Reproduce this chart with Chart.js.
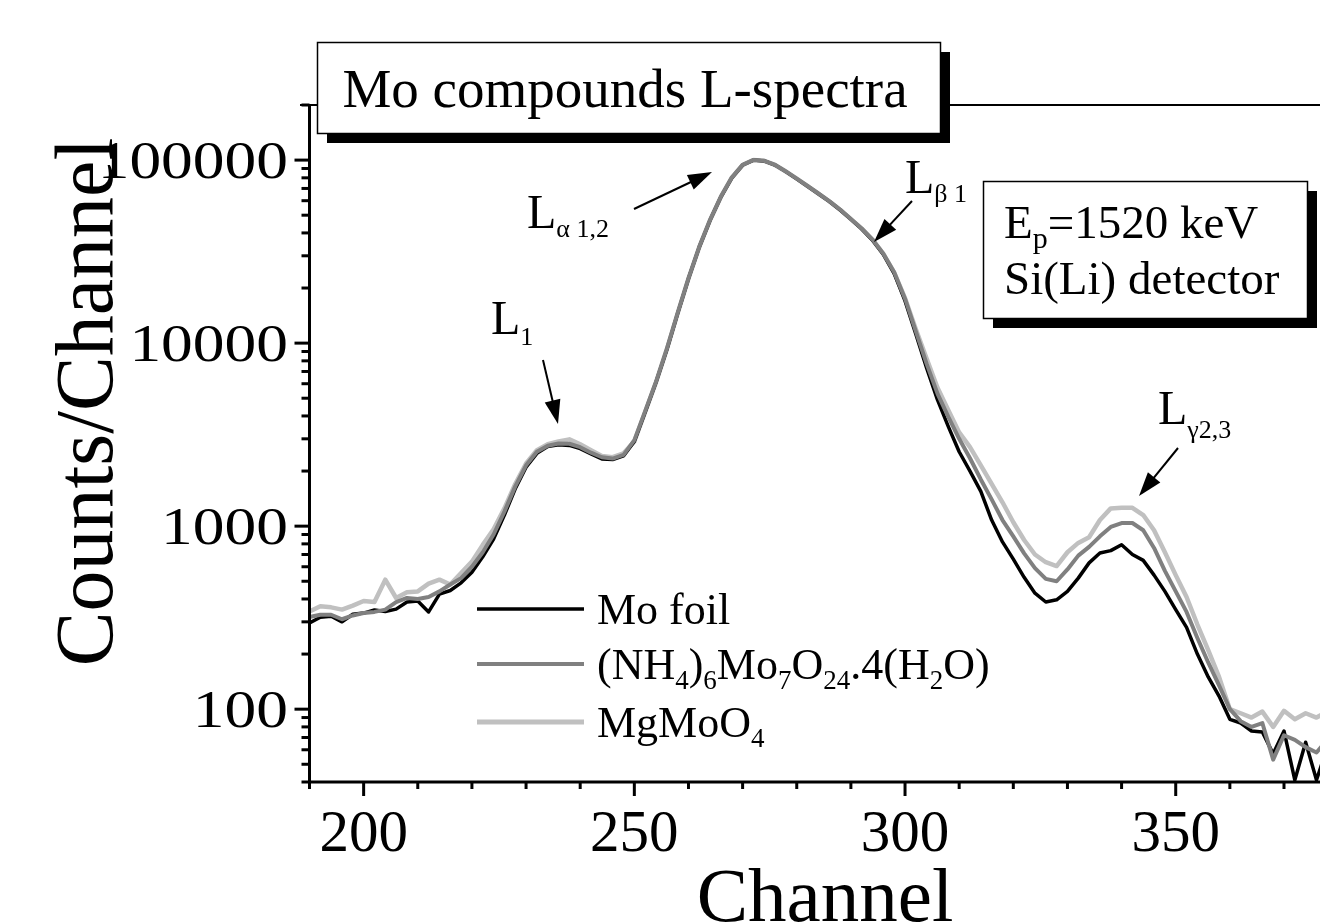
<!DOCTYPE html>
<html>
<head>
<meta charset="utf-8">
<script src="https://cdn.jsdelivr.net/npm/chart.js@4.4.1/dist/chart.umd.min.js"></script>
<style>
  html, body { margin: 0; padding: 0; background: #fff; }
  #wrap { width: 1320px; height: 923px; }
</style>
</head>
<body>
<div id="wrap"><canvas id="spectra" width="1320" height="923"></canvas></div>
<script>
// channel numbers (every 2nd channel)
const channels = [190,192,194,196,198,200,202,204,206,208,210,212,214,216,218,220,222,224,226,228,
  230,232,234,236,238,240,242,244,246,248,250,252,254,256,258,260,262,264,266,268,
  270,272,274,276,278,280,282,284,286,288,290,292,294,296,298,300,302,304,306,308,
  310,312,314,316,318,320,322,324,326,328,330,332,334,336,338,340,342,344,346,348,
  350,352,354,356,358,360,362,364,366,368,370,372,374,376,378];

// counts per channel
const moFoil = [296,318,322,300,330,335,348,342,352,385,390,340,425,445,490,560,680,850,1150,1600,
  2100,2500,2720,2780,2760,2650,2480,2330,2310,2420,2900,4200,6100,9200,14500,22500,33500,47000,63000,80000,
  94000,100000,99000,94000,86500,79000,72000,65500,59500,53500,47500,42000,36500,30500,24000,17000,11200,7300,4900,3500,
  2550,2000,1550,1080,820,660,525,430,385,396,440,520,630,713,735,792,700,650,540,440,
  350,280,200,150,118,88,84,76,75,57,76,41,66,41,62];

const nh4Mo = [319,328,328,310,325,335,340,350,385,405,400,410,440,480,520,600,720,900,1200,1650,
  2150,2550,2750,2830,2820,2700,2520,2380,2340,2450,2950,4250,6150,9300,14600,22600,33600,47200,63200,80300,
  94200,100200,99100,94100,86700,79200,72200,65700,59700,53700,47700,42300,36800,30800,24400,17500,11600,7700,5300,3950,
  3000,2350,1800,1400,1080,880,710,590,515,500,580,690,770,880,990,1040,1040,950,760,570,
  440,340,245,180,135,100,86,80,84,53,72,68,62,58,68];

const mgMoO4 = [342,365,360,350,368,390,385,510,405,435,440,485,510,480,555,640,790,960,1250,1700,
  2200,2600,2800,2900,2980,2800,2600,2420,2380,2500,2900,4200,6100,9250,14550,22550,33550,47100,63100,80100,
  94100,100100,99050,94050,86600,79100,72100,65600,59600,53600,47600,42200,36700,30700,24300,17600,11900,8200,5700,4300,
  3250,2700,2150,1700,1350,1050,840,700,635,605,720,810,870,1080,1250,1260,1260,1150,950,720,
  540,410,290,210,150,100,95,90,97,80,98,88,95,90,97];

const xTickLabels = [200, 250, 300, 350];
const yTickLabels = [100, 1000, 10000, 100000];

const serif = '"Liberation Serif", "Times New Roman", serif';

function pts(vals) {
  return channels.map((c, i) => ({ x: c, y: vals[i] }));
}

// text with subscripts: parts = [[text, isSub], ...]
function rich(ctx, parts, x, y, size, subSize, drop) {
  let cx = x;
  parts.forEach(([t, sub]) => {
    ctx.font = (sub ? subSize : size) + 'px ' + serif;
    ctx.fillText(t, cx, sub ? y + drop : y);
    cx += ctx.measureText(t).width;
  });
  return cx - x;
}

function arrow(ctx, x1, y1, x2, y2) {
  const a = Math.atan2(y2 - y1, x2 - x1), L = 24, W = 8;
  const c = Math.cos(a), s = Math.sin(a);
  ctx.lineWidth = 2;
  ctx.beginPath();
  ctx.moveTo(x1, y1);
  ctx.lineTo(x2 - c * L * 0.8, y2 - s * L * 0.8);
  ctx.stroke();
  ctx.beginPath();
  ctx.moveTo(x2, y2);
  ctx.lineTo(x2 - L * c + W * s, y2 - L * s - W * c);
  ctx.lineTo(x2 - L * c - W * s, y2 - L * s + W * c);
  ctx.closePath();
  ctx.fill();
}

function shadowBox(ctx, x, y, w, h) {
  ctx.fillStyle = '#000';
  ctx.fillRect(x + 10, y + 10, w, h);
  ctx.fillStyle = '#fff';
  ctx.fillRect(x, y, w, h);
  ctx.strokeStyle = '#000';
  ctx.lineWidth = 1.5;
  ctx.strokeRect(x + 0.5, y + 0.5, w, h);
}

const decorations = {
  id: 'decorations',
  afterDraw(chart) {
    const ctx = chart.ctx;
    const xs = chart.scales.x, ys = chart.scales.y;
    const area = chart.chartArea;
    ctx.save();
    ctx.strokeStyle = '#000';
    ctx.fillStyle = '#000';
    ctx.lineCap = 'butt';

    // axes frame
    ctx.lineWidth = 3;
    ctx.beginPath();
    ctx.moveTo(area.left, area.top);
    ctx.lineTo(area.left, area.bottom + 1.5);
    ctx.moveTo(area.left - 1.5, area.bottom);
    ctx.lineTo(area.right, area.bottom);
    ctx.stroke();
    ctx.lineWidth = 2;
    ctx.beginPath();
    ctx.moveTo(300, area.top);
    ctx.lineTo(area.right, area.top);
    ctx.stroke();

    // x ticks
    ctx.lineWidth = 3;
    xs.ticks.forEach(t => {
      const px = xs.getPixelForValue(t.value);
      const len = xTickLabels.includes(t.value) ? 14 : 7;
      ctx.beginPath();
      ctx.moveTo(px, area.bottom);
      ctx.lineTo(px, area.bottom + len);
      ctx.stroke();
    });
    // y ticks
    ys.ticks.forEach(t => {
      const py = ys.getPixelForValue(t.value);
      const len = yTickLabels.includes(t.value) ? 15 : 8;
      ctx.beginPath();
      ctx.moveTo(area.left - len, py);
      ctx.lineTo(area.left, py);
      ctx.stroke();
    });

    // y tick labels (wide serif)
    ctx.textAlign = 'right';
    ctx.textBaseline = 'alphabetic';
    yTickLabels.forEach(v => {
      const py = ys.getPixelForValue(v);
      ctx.save();
      ctx.translate(288, py + 17.5);
      ctx.scale(1.22, 1);
      ctx.font = '52px ' + serif;
      ctx.fillText(String(v), 0, 0);
      ctx.restore();
    });

    // axis titles
    ctx.textAlign = 'center';
    ctx.font = '77px ' + serif;
    ctx.fillText('Channel', 825, 921);
    ctx.save();
    ctx.translate(112, 402);
    ctx.rotate(-Math.PI / 2);
    ctx.font = '82px ' + serif;
    ctx.fillText('Counts/Channel', 0, 0);
    ctx.restore();

    // legend
    ctx.textAlign = 'left';
    const legend = [
      { color: '#000000', width: 3.5, y: 609, parts: [['Mo foil', false]] },
      { color: '#808080', width: 4, y: 664, parts: [['(NH', false], ['4', true], [')', false], ['6', true], ['Mo', false], ['7', true], ['O', false], ['24', true], ['.4(H', false], ['2', true], ['O)', false]] },
      { color: '#c0c0c0', width: 5, y: 722, parts: [['MgMoO', false], ['4', true]] }
    ];
    legend.forEach(item => {
      ctx.strokeStyle = item.color;
      ctx.lineWidth = item.width;
      ctx.beginPath();
      ctx.moveTo(477, item.y);
      ctx.lineTo(584, item.y);
      ctx.stroke();
      ctx.fillStyle = '#000';
      rich(ctx, item.parts, 597, item.y + 15, 44, 27, 10);
    });

    // peak labels and arrows
    ctx.fillStyle = '#000';
    ctx.strokeStyle = '#000';
    rich(ctx, [['L', false], ['\u03b1 1,2', true]], 527, 228, 48, 26, 9);
    arrow(ctx, 634, 209, 712, 172);
    rich(ctx, [['L', false], ['1', true]], 491, 334, 48, 26, 11);
    arrow(ctx, 543, 360, 558, 424);
    rich(ctx, [['L', false], ['\u03b2 1', true]], 905, 193, 48, 26, 9);
    arrow(ctx, 912, 201, 874, 242);
    rich(ctx, [['L', false], ['\u03b32,3', true]], 1158, 424, 48, 26, 14);
    arrow(ctx, 1178, 448, 1139, 496);

    // title box
    shadowBox(ctx, 317, 42, 623, 91);
    ctx.fillStyle = '#000';
    ctx.textAlign = 'center';
    ctx.font = '55px ' + serif;
    ctx.fillText('Mo compounds L-spectra', 625, 107);

    // conditions box
    shadowBox(ctx, 983, 181, 324, 137);
    ctx.fillStyle = '#000';
    ctx.textAlign = 'left';
    rich(ctx, [['E', false], ['p', true], ['=1520 keV', false]], 1004, 238, 47, 30, 10);
    rich(ctx, [['Si(Li) detector', false]], 1004, 294, 47, 30, 10);

    ctx.restore();
  }
};

new Chart(document.getElementById('spectra'), {
  type: 'line',
  data: {
    datasets: [
      { label: 'Mo foil', data: pts(moFoil), borderColor: '#000000', borderWidth: 3.5, order: 1 },
      { label: '(NH4)6Mo7O24.4(H2O)', data: pts(nh4Mo), borderColor: '#808080', borderWidth: 4, order: 0 },
      { label: 'MgMoO4', data: pts(mgMoO4), borderColor: '#c0c0c0', borderWidth: 4.5, order: 2 }
    ]
  },
  options: {
    responsive: false,
    animation: false,
    devicePixelRatio: 1,
    layout: { padding: { left: 0, right: 0, top: 105, bottom: 0 } },
    elements: { point: { radius: 0 }, line: { tension: 0, fill: false, borderJoinStyle: 'round' } },
    plugins: { legend: { display: false }, tooltip: { enabled: false } },
    scales: {
      x: {
        type: 'linear',
        min: 190,
        max: 376.65,
        border: { display: false },
        grid: { display: false, drawTicks: false },
        afterBuildTicks: s => {
          const t = [];
          for (let v = 190; v <= 376; v += 10) t.push({ value: v });
          s.ticks = t;
        },
        afterFit: s => { s.height = 141; },
        ticks: {
          autoSkip: false,
          maxRotation: 0,
          padding: 18,
          color: '#000',
          font: { family: serif, size: 59 },
          callback: v => xTickLabels.includes(v) ? String(v) : ''
        }
      },
      y: {
        type: 'logarithmic',
        min: 40,
        max: 200000,
        border: { display: false },
        grid: { display: false, drawTicks: false },
        afterBuildTicks: s => {
          const t = [];
          for (let e = 1; e <= 5; e++) {
            for (let m = 1; m <= 9; m++) {
              const v = m * Math.pow(10, e);
              if (v >= 40 && v <= 200000) t.push({ value: v, major: m === 1 });
            }
          }
          s.ticks = t;
        },
        afterFit: s => { s.width = 309.5; },
        ticks: { display: false }
      }
    }
  },
  plugins: [decorations]
});
</script>
</body>
</html>
